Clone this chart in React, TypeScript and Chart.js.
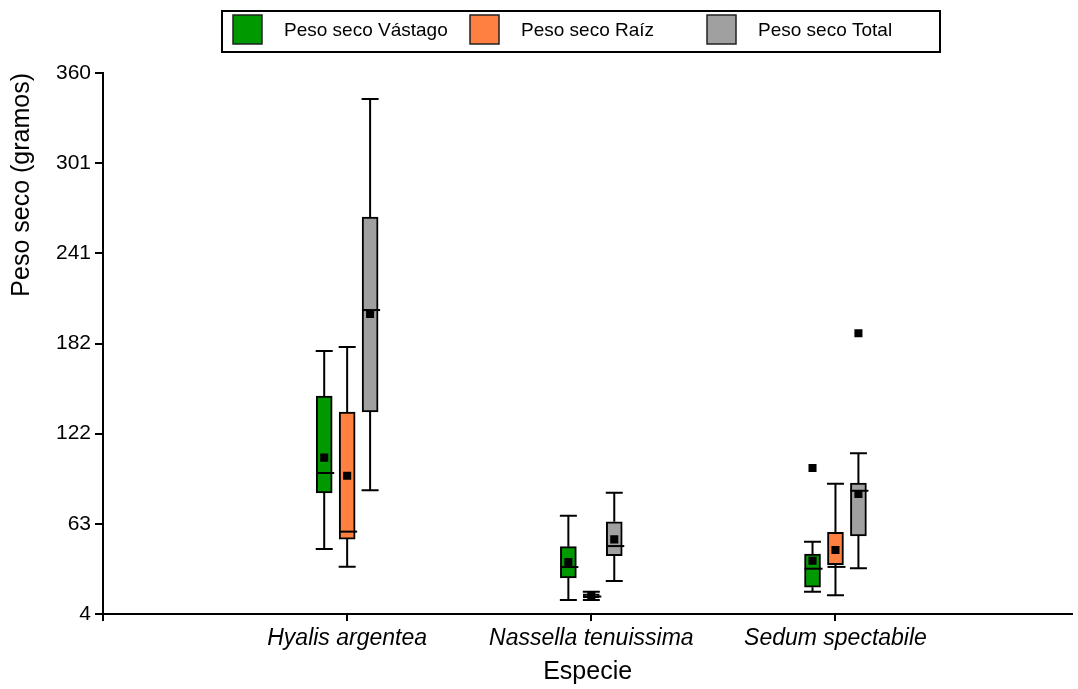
import React, { useEffect, useRef } from 'react';
import { Chart, registerables } from 'chart.js';

Chart.register(...registerables);

// ---------- data ----------
const categories = ['Hyalis argentea', 'Nassella tenuissima', 'Sedum spectabile'];
const seriesNames = ['Peso seco Vástago', 'Peso seco Raíz', 'Peso seco Total'];
const seriesColors = ['#009900', '#FF8040', '#A0A0A0'];
const yTickLabels = ['4', '63', '122', '182', '241', '301', '360'];

// Peso seco Vástago
const vastagoMin = [46.8, 13.2, 18.7];
const vastagoQ1 = [83.6, 27.7, 21.6];
const vastagoMedian = [96.8, 34.9, 33.8];
const vastagoQ3 = [147.4, 48.3, 43.5];
const vastagoMax = [177.1, 68.7, 51.6];
const vastagoMean = [106.9, 38.2, 39.1];
const vastagoOutliers = [[], [], [100.1]];

// Peso seco Raíz
const raizMin = [35.1, 13.2, 16.3];
const raizQ1 = [53.3, 14.5, 36.5];
const raizMedian = [58.2, 15.5, 35.0];
const raizQ3 = [136.9, 17.2, 57.8];
const raizMax = [179.7, 18.7, 89.7];
const raizMean = [95.0, 15.8, 46.1];
const raizOutliers = [[], [], []];

// Peso seco Total
const totalMin = [85.4, 25.7, 34.1];
const totalQ1 = [136.9, 42.4, 55.3];
const totalMedian = [204.0, 48.7, 85.1];
const totalQ3 = [265.2, 64.7, 90.2];
const totalMax = [342.9, 83.8, 109.7];
const totalMean = [201.4, 53.1, 83.0];
const totalOutliers = [[], [], [188.7]];

const series = [
  { min: vastagoMin, q1: vastagoQ1, median: vastagoMedian, q3: vastagoQ3, max: vastagoMax, mean: vastagoMean, outliers: vastagoOutliers },
  { min: raizMin, q1: raizQ1, median: raizMedian, q3: raizQ3, max: raizMax, mean: raizMean, outliers: raizOutliers },
  { min: totalMin, q1: totalQ1, median: totalMedian, q3: totalQ3, max: totalMax, mean: totalMean, outliers: totalOutliers },
];

// ---------- layout / style ----------
const FONT = '"Liberation Sans", Arial, sans-serif';
const GROUP_OFFSET = 0.094;
const BOX_WIDTH = 16;
const CAP_HALF = 8.5;
const MEDIAN_HALF = 9;
const offsetFor = (si: number) => (si - (seriesNames.length - 1) / 2) * GROUP_OFFSET;
const yMin = Number(yTickLabels[0]);
const yMax = Number(yTickLabels[yTickLabels.length - 1]);

const boxPlugin = {
  id: 'boxWhiskers',
  beforeDatasetsDraw(chart: any) {
    const { ctx, scales } = chart;
    const x = scales.x, y = scales.y;
    ctx.save();
    ctx.strokeStyle = '#000';
    ctx.lineWidth = 2;
    series.forEach((s, si) => {
      categories.forEach((_c, ci) => {
        const px = x.getPixelForValue(ci + 1 + offsetFor(si));
        const lo = y.getPixelForValue(s.min[ci]);
        const hi = y.getPixelForValue(s.max[ci]);
        const q1 = y.getPixelForValue(s.q1[ci]);
        const q3 = y.getPixelForValue(s.q3[ci]);
        ctx.beginPath();
        ctx.moveTo(px, hi); ctx.lineTo(px, q3);
        ctx.moveTo(px, q1); ctx.lineTo(px, lo);
        ctx.moveTo(px - CAP_HALF, hi); ctx.lineTo(px + CAP_HALF, hi);
        ctx.moveTo(px - CAP_HALF, lo); ctx.lineTo(px + CAP_HALF, lo);
        ctx.stroke();
      });
    });
    ctx.restore();
  },
  afterDatasetDraw(chart: any, args: any) {
    const ds = chart.data.datasets[args.index];
    if (ds.type !== 'bar') return;
    const si = ds.seriesIndex;
    const s = series[si];
    const { ctx, scales } = chart;
    ctx.save();
    ctx.strokeStyle = '#000';
    ctx.lineWidth = 2;
    categories.forEach((_c, ci) => {
      const px = scales.x.getPixelForValue(ci + 1 + offsetFor(si));
      const py = scales.y.getPixelForValue(s.median[ci]);
      ctx.beginPath();
      ctx.moveTo(px - MEDIAN_HALF + 1, py);
      ctx.lineTo(px + MEDIAN_HALF + 1, py);
      ctx.stroke();
    });
    ctx.restore();
  },
  afterDraw(chart: any) {
    const { ctx } = chart;
    ctx.save();
    // legend frame
    const left = 222, top = 11, width = 718, height = 41;
    ctx.strokeStyle = '#000';
    ctx.lineWidth = 2;
    ctx.strokeRect(left, top, width, height);
    const slot = 237;
    seriesNames.forEach((name, i) => {
      const sx = left + 11 + i * slot;
      ctx.fillStyle = seriesColors[i];
      ctx.fillRect(sx, top + 4, 29, 29);
      ctx.lineWidth = 1.5;
      ctx.strokeStyle = '#222';
      ctx.strokeRect(sx, top + 4, 29, 29);
      ctx.fillStyle = '#000';
      ctx.font = `19px ${FONT}`;
      ctx.textBaseline = 'middle';
      ctx.textAlign = 'left';
      ctx.fillText(name, sx + 51, top + 20);
    });
    ctx.restore();
  },
};

export default function App() {
  const ref = useRef<HTMLCanvasElement | null>(null);

  useEffect(() => {
    if (!ref.current) return;
    const datasets: any[] = [];
    series.forEach((s, si) => {
      datasets.push({
        type: 'bar',
        label: seriesNames[si],
        seriesIndex: si,
        data: categories.map((_c, ci) => ({ x: ci + 1 + offsetFor(si), y: [s.q1[ci], s.q3[ci]] })),
        backgroundColor: seriesColors[si],
        borderColor: '#000',
        borderWidth: 2,
        borderSkipped: false,
        barThickness: BOX_WIDTH,
        grouped: false,
        order: 2,
      });
    });
    series.forEach((s, si) => {
      const pts: any[] = categories.map((_c, ci) => ({ x: ci + 1 + offsetFor(si), y: s.mean[ci] }));
      s.outliers.forEach((list, ci) => list.forEach((v) => pts.push({ x: ci + 1 + offsetFor(si), y: v })));
      datasets.push({
        type: 'scatter',
        label: seriesNames[si] + ' media',
        data: pts,
        pointStyle: 'rect',
        pointRadius: 5.7,
        pointBorderWidth: 0,
        backgroundColor: '#000',
        borderColor: '#000',
        order: 0,
      });
    });

    const chart = new Chart(ref.current, {
      type: 'bar',
      data: { datasets },
      plugins: [boxPlugin],
      options: {
        animation: false,
        responsive: false,
        devicePixelRatio: 1,
        events: [],
        layout: { padding: { top: 73, right: 2, left: 0, bottom: 0 } },
        plugins: { legend: { display: false }, tooltip: { enabled: false } },
        scales: {
          x: {
            type: 'linear',
            min: 0,
            max: 3.97,
            offset: false,
            afterBuildTicks: (scale: any) => {
              scale.ticks = [0, ...categories.map((_c, i) => i + 1)].map((v) => ({ value: v }));
            },
            afterFit: (scale: any) => { scale.height = 75; },
            ticks: {
              autoSkip: false,
              maxRotation: 0,
              padding: 4,
              color: '#000',
              font: { family: FONT, size: 23, style: 'italic' },
              callback: (v: any) => (v >= 1 ? categories[Math.round(v) - 1] : ''),
            },
            grid: { offset: false, drawOnChartArea: false, drawTicks: true, tickLength: 7, color: '#000', lineWidth: 2 },
            border: { display: true, color: '#000', width: 2 },
            title: {
              display: true,
              text: 'Especie',
              color: '#000',
              font: { family: FONT, size: 25 },
              padding: { top: 0, bottom: 2 },
            },
          },
          y: {
            type: 'linear',
            min: yMin,
            max: yMax,
            afterBuildTicks: (scale: any) => {
              const n = yTickLabels.length - 1;
              scale.ticks = yTickLabels.map((_t, i) => ({ value: yMin + (i * (yMax - yMin)) / n }));
            },
            afterFit: (scale: any) => { scale.width = 103; },
            ticks: {
              autoSkip: false,
              padding: 4,
              color: '#000',
              font: { family: FONT, size: 21 },
              callback: (_v: any, i: number) => yTickLabels[i],
            },
            grid: { drawOnChartArea: false, drawTicks: true, tickLength: 8, color: '#000', lineWidth: 2 },
            border: { display: true, color: '#000', width: 2 },
            title: {
              display: true,
              text: 'Peso seco (gramos)',
              align: 'end',
              color: '#000',
              font: { family: FONT, size: 25 },
              padding: { top: 7, bottom: 0 },
            },
          },
        },
      } as any,
    });
    return () => chart.destroy();
  }, []);

  return (
    <div style={{ position: 'fixed', left: 0, top: 0, width: 1078, height: 689, background: '#fff' }}>
      <canvas ref={ref} width={1078} height={689} style={{ display: 'block' }} />
    </div>
  );
}
